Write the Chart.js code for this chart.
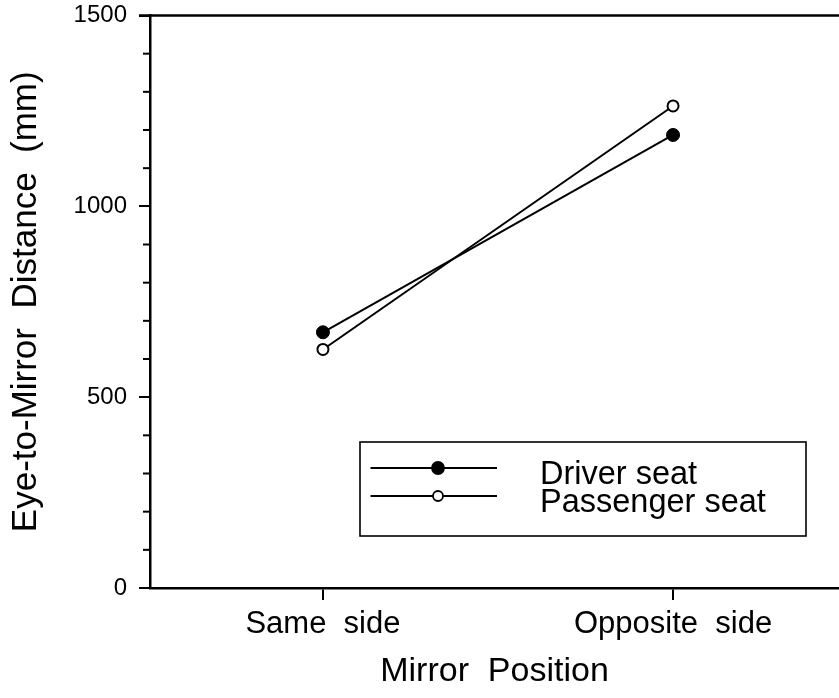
<!DOCTYPE html>
<html>
<head>
<meta charset="utf-8">
<script src="https://cdn.jsdelivr.net/npm/chart.js@4"></script>
<style>
  html, body { margin: 0; padding: 0; background: #fff; }
  #wrap { width: 839px; height: 698px; }
</style>
</head>
<body>
<div id="wrap"><canvas id="c" width="839" height="698"></canvas></div>
<script>
// ---- data ----
const categories = ['Same  side', 'Opposite  side'];
const driverSeat = [670, 1187];
const passengerSeat = [625, 1263];
const seriesNames = ['Driver seat', 'Passenger seat'];
const yMajorTicks = [0, 500, 1000, 1500];
const yMinorStep = 100;

Chart.defaults.font.family = "'Liberation Sans', Arial, Helvetica, sans-serif";
Chart.defaults.color = '#000';

const minorTicks = {
  id: 'minorTicks',
  afterDraw(chart) {
    const ctx = chart.ctx, y = chart.scales.y, a = chart.chartArea;
    ctx.save();
    ctx.strokeStyle = '#000';
    ctx.lineWidth = 2;
    for (let v = y.min; v <= y.max; v += yMinorStep) {
      if (yMajorTicks.includes(v)) continue;
      const py = y.getPixelForValue(v);
      ctx.beginPath();
      ctx.moveTo(a.left - 7, py);
      ctx.lineTo(a.left, py);
      ctx.stroke();
    }
    // top frame line
    ctx.lineWidth = 2.5;
    ctx.beginPath();
    ctx.moveTo(a.left - 11, a.top);
    ctx.lineTo(a.right, a.top);
    ctx.stroke();
    ctx.restore();
  }
};

const boxLegend = {
  id: 'boxLegend',
  afterDraw(chart) {
    const ctx = chart.ctx, a = chart.chartArea;
    const bx = a.left + 210, by = a.top + 426.5, bw = 446, bh = 94;
    ctx.save();
    ctx.strokeStyle = '#000';
    ctx.lineWidth = 1.6;
    ctx.strokeRect(bx, by, bw, bh);
    const rows = [by + 26, by + 54];
    chart.data.datasets.forEach((ds, i) => {
      const ry = rows[i];
      ctx.lineWidth = 2;
      ctx.beginPath();
      ctx.moveTo(bx + 10.5, ry);
      ctx.lineTo(bx + 137, ry);
      ctx.stroke();
      ctx.beginPath();
      ctx.arc(bx + 78, ry, i === 0 ? 6 : 5, 0, Math.PI * 2);
      ctx.fillStyle = ds.pointBackgroundColor;
      ctx.fill();
      ctx.lineWidth = 1.8;
      ctx.stroke();
      ctx.fillStyle = '#000';
      ctx.font = "32.5px 'Liberation Sans', Arial, sans-serif";
      ctx.textBaseline = 'alphabetic';
      ctx.fillText(ds.label, bx + 180, ry + 15.5);
    });
    ctx.restore();
  }
};

new Chart(document.getElementById('c'), {
  type: 'line',
  data: {
    datasets: [
      {
        label: seriesNames[0],
        data: driverSeat.map((v, i) => ({ x: i, y: v })),
        borderColor: '#000',
        borderWidth: 2,
        pointRadius: 6.5,
        pointBackgroundColor: '#000',
        pointBorderColor: '#000',
        pointBorderWidth: 1,
        tension: 0
      },
      {
        label: seriesNames[1],
        data: passengerSeat.map((v, i) => ({ x: i, y: v })),
        borderColor: '#000',
        borderWidth: 2,
        pointRadius: 5.5,
        pointBackgroundColor: '#fff',
        pointBorderColor: '#000',
        pointBorderWidth: 2,
        tension: 0
      }
    ]
  },
  options: {
    responsive: false,
    animation: false,
    devicePixelRatio: 1,
    layout: { autoPadding: false, padding: { top: 15.5, right: 0, bottom: 0, left: 0 } },
    plugins: { legend: { display: false }, tooltip: { enabled: false } },
    scales: {
      x: {
        type: 'linear',
        min: -0.494,
        max: 1.474,
        afterBuildTicks: s => { s.ticks = categories.map((c, i) => ({ value: i })); },
        afterFit: s => { s.height = 110; s.paddingLeft = 0; s.paddingRight = 0; },
        ticks: {
          callback: v => categories[v] ?? '',
          autoSkip: false,
          maxRotation: 0,
          padding: 6,
          font: { size: 31 }
        },
        grid: { drawOnChartArea: false, tickLength: 12, lineWidth: 2, color: '#000' },
        border: { color: '#000', width: 2.5 },
        title: { display: true, text: 'Mirror  Position', font: { size: 34 }, padding: { top: 0, bottom: 6 } }
      },
      y: {
        min: 0,
        max: 1500,
        afterBuildTicks: s => { s.ticks = yMajorTicks.map(v => ({ value: v })); },
        afterFit: s => { s.width = 150; s.paddingTop = 0; s.paddingBottom = 0; },
        ticks: { padding: 12, font: { size: 24 }, callback: v => String(v) },
        grid: { drawOnChartArea: false, tickLength: 11, lineWidth: 2, color: '#000' },
        border: { color: '#000', width: 2.5 },
        title: { display: true, text: 'Eye-to-Mirror  Distance  (mm)', font: { size: 35 }, padding: { top: 5, bottom: 0 } }
      }
    }
  },
  plugins: [minorTicks, boxLegend]
});
</script>
</body>
</html>
